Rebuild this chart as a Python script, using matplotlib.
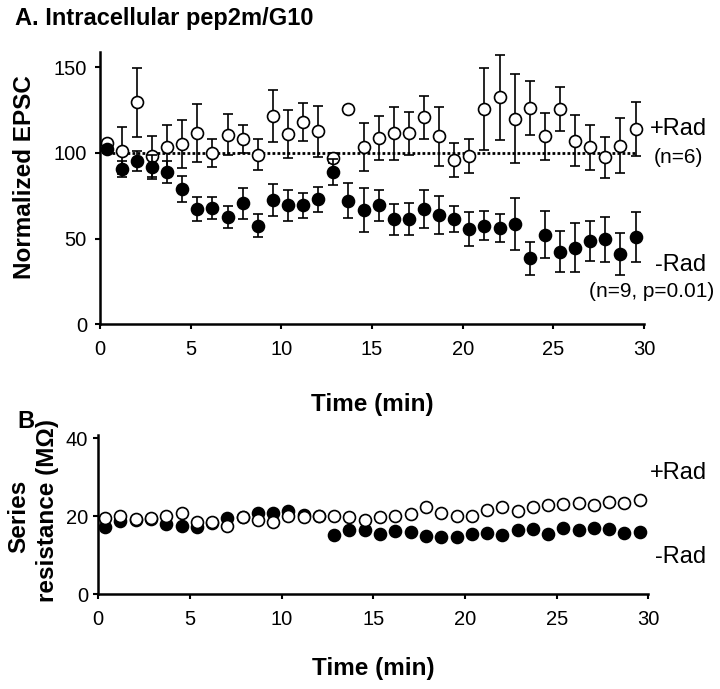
import matplotlib
matplotlib.use('Agg')
import matplotlib.pyplot as plt

plt.rcParams['font.family'] = ['Liberation Sans', 'DejaVu Sans']

# sample times (min), one every ~50 s
times = [0.37, 1.20, 2.04, 2.87, 3.70, 4.54, 5.37, 6.20, 7.04, 7.87, 8.70, 9.54,
         10.37, 11.20, 12.04, 12.87, 13.70, 14.54, 15.37, 16.20, 17.04, 17.87, 18.70, 19.54,
         20.37, 21.20, 22.04, 22.87, 23.70, 24.54, 25.37, 26.20, 27.04, 27.87, 28.70, 29.54]

# A: normalized EPSC
epsc_plus = [105.6, 101.2, 129.4, 97.9, 103.2, 105.2, 111.5, 99.9, 110.6, 108.1, 98.9, 121.6,
             111.0, 117.9, 112.5, 96.9, 125.6, 103.2, 108.6, 111.5, 111.5, 120.8, 109.6, 96.0,
             98.3, 125.6, 132.3, 119.9, 126.2, 109.6, 125.6, 107.1, 103.2, 97.3, 104.2, 113.9]
epsc_plus_err = [1, 13.7, 20, 12, 13, 14, 17, 8, 12, 8, 9, 15,
                 14, 11, 15, 3, 1.5, 14, 13, 15.5, 12.5, 12.5, 17, 10,
                 10, 24, 25, 26, 16, 13.5, 13, 15, 13, 12, 16, 16]
epsc_minus = [102.2, 90.6, 95.3, 92.0, 88.8, 78.9, 67.3, 67.8, 62.5, 70.6, 57.6, 72.6,
              69.3, 69.3, 73.0, 88.8, 72.2, 66.7, 69.3, 61.3, 61.3, 67.3, 63.9, 61.3,
              55.5, 57.6, 56.1, 58.4, 38.5, 52.2, 42.4, 44.7, 48.8, 49.6, 40.9, 50.8]
epsc_minus_err = [2, 4.5, 6, 7, 6.3, 7.6, 7, 6.6, 6.6, 9, 6.5, 9.4,
                  8.8, 7.5, 7.3, 7.7, 10.4, 13, 9.2, 9, 9.4, 11, 11, 7.7,
                  10, 8.4, 8.2, 15, 9.7, 13.8, 12, 14.3, 11.6, 13, 12.4, 14.7]

# B: series resistance (MOhm)
rs_plus = [19.5, 19.9, 19.3, 19.6, 20.0, 20.7, 18.4, 18.6, 17.5, 19.7, 19.0, 18.4,
           20.1, 19.7, 20.1, 19.9, 19.7, 19.0, 19.7, 20.0, 20.5, 22.2, 20.9, 19.9,
           19.9, 21.6, 22.3, 21.4, 22.2, 22.9, 23.1, 23.3, 22.9, 23.7, 23.3, 24.0]
rs_minus = [17.3, 18.8, 19.1, 19.3, 17.9, 17.5, 17.1, 18.2, 19.6, 19.7, 20.9, 20.9,
            21.2, 20.3, 20.0, 15.2, 16.3, 16.5, 15.3, 16.2, 15.8, 15.0, 14.6, 14.6,
            15.3, 15.6, 15.2, 16.5, 16.7, 15.3, 16.9, 16.5, 16.9, 16.6, 15.6, 16.0]

xticks = [0, 5, 10, 15, 20, 25, 30]

W, H = 720, 689
fig = plt.figure(figsize=(W / 100, H / 100), dpi=100)

def style_axes(ax, pad_y):
    for s in ['top', 'right']:
        ax.spines[s].set_visible(False)
    for s in ['left', 'bottom']:
        ax.spines[s].set_linewidth(1.8)
    ax.tick_params(axis='both', direction='out', length=3.6, width=1.5,
                   labelsize=14.5, colors='black')
    ax.tick_params(axis='x', pad=8)
    ax.tick_params(axis='y', pad=pad_y)
    ax.set_xlim(0, 30)
    ax.set_xticks(xticks)

mk = dict(marker='o', markersize=8.6, markeredgewidth=1.2, markeredgecolor='black',
          linestyle='none')
eb = dict(ecolor='black', elinewidth=1.2, capsize=3.6, capthick=1.2)

# ---- panel A ----
ax1 = fig.add_axes([100 / W, 1 - 324.3 / H, 544 / W, 272.6 / H])
style_axes(ax1, 5.8)
ax1.set_ylim(0, 159)
ax1.set_yticks([0, 50, 100, 150])
ax1.hlines(100, times[0], times[-1], colors='black', linewidth=2.0,
           linestyles=(0, (1, 0.8)), zorder=1)
ax1.errorbar(times, epsc_plus, yerr=epsc_plus_err, markerfacecolor='white',
             zorder=2, **mk, **eb)
ax1.errorbar(times, epsc_minus, yerr=epsc_minus_err, markerfacecolor='black',
             zorder=3, **mk, **eb)

ax1.text(31.9, 114, '+Rad', fontsize=17, ha='center', va='center', clip_on=False)
ax1.text(31.9, 97.5, '(n=6)', fontsize=15, ha='center', va='center', clip_on=False)
ax1.text(32.0, 34.6, '-Rad', fontsize=17, ha='center', va='center', clip_on=False)
ax1.text(30.4, 19, '(n=9, p=0.01)', fontsize=15, ha='center', va='center', clip_on=False)

# ---- panel B ----
ax2 = fig.add_axes([98.3 / W, 1 - 594 / H, 550 / W, 159 / H])
style_axes(ax2, 3.6)
ax2.set_ylim(0, 40.8)
ax2.set_yticks([0, 20, 40])
ax2.plot(times, rs_minus, markerfacecolor='black', zorder=2, **mk)
ax2.plot(times, rs_plus, markerfacecolor='white', zorder=3, **mk)

ax2.text(31.64, 31.1, '+Rad', fontsize=17, ha='center', va='center', clip_on=False)
ax2.text(31.78, 9.4, '-Rad', fontsize=17, ha='center', va='center', clip_on=False)

# ---- labels ----
fig.text(15 / W, 1 - 19 / H, 'A. Intracellular pep2m/G10', fontsize=17,
         fontweight='bold', ha='left', va='center')
fig.text(17 / W, 1 - 422 / H, 'B', fontsize=17, fontweight='bold',
         ha='left', va='center')
fig.text(25 / W, 1 - 177 / H, 'Normalized EPSC', fontsize=17.5, fontweight='bold',
         rotation=90, ha='center', va='center')
fig.text(19 / W, 1 - 516 / H, 'Series', fontsize=17.5, fontweight='bold',
         rotation=90, ha='center', va='center')
fig.text(48 / W, 1 - 511 / H, 'resistance (M\u03a9)', fontsize=17.5,
         fontweight='bold', rotation=90, ha='center', va='center')
fig.text(372 / W, 1 - 405 / H, 'Time (min)', fontsize=17.5, fontweight='bold',
         ha='center', va='center')
fig.text(373 / W, 1 - 668 / H, 'Time (min)', fontsize=17.5, fontweight='bold',
         ha='center', va='center')

fig.savefig('out.png', dpi=100, facecolor='white')
